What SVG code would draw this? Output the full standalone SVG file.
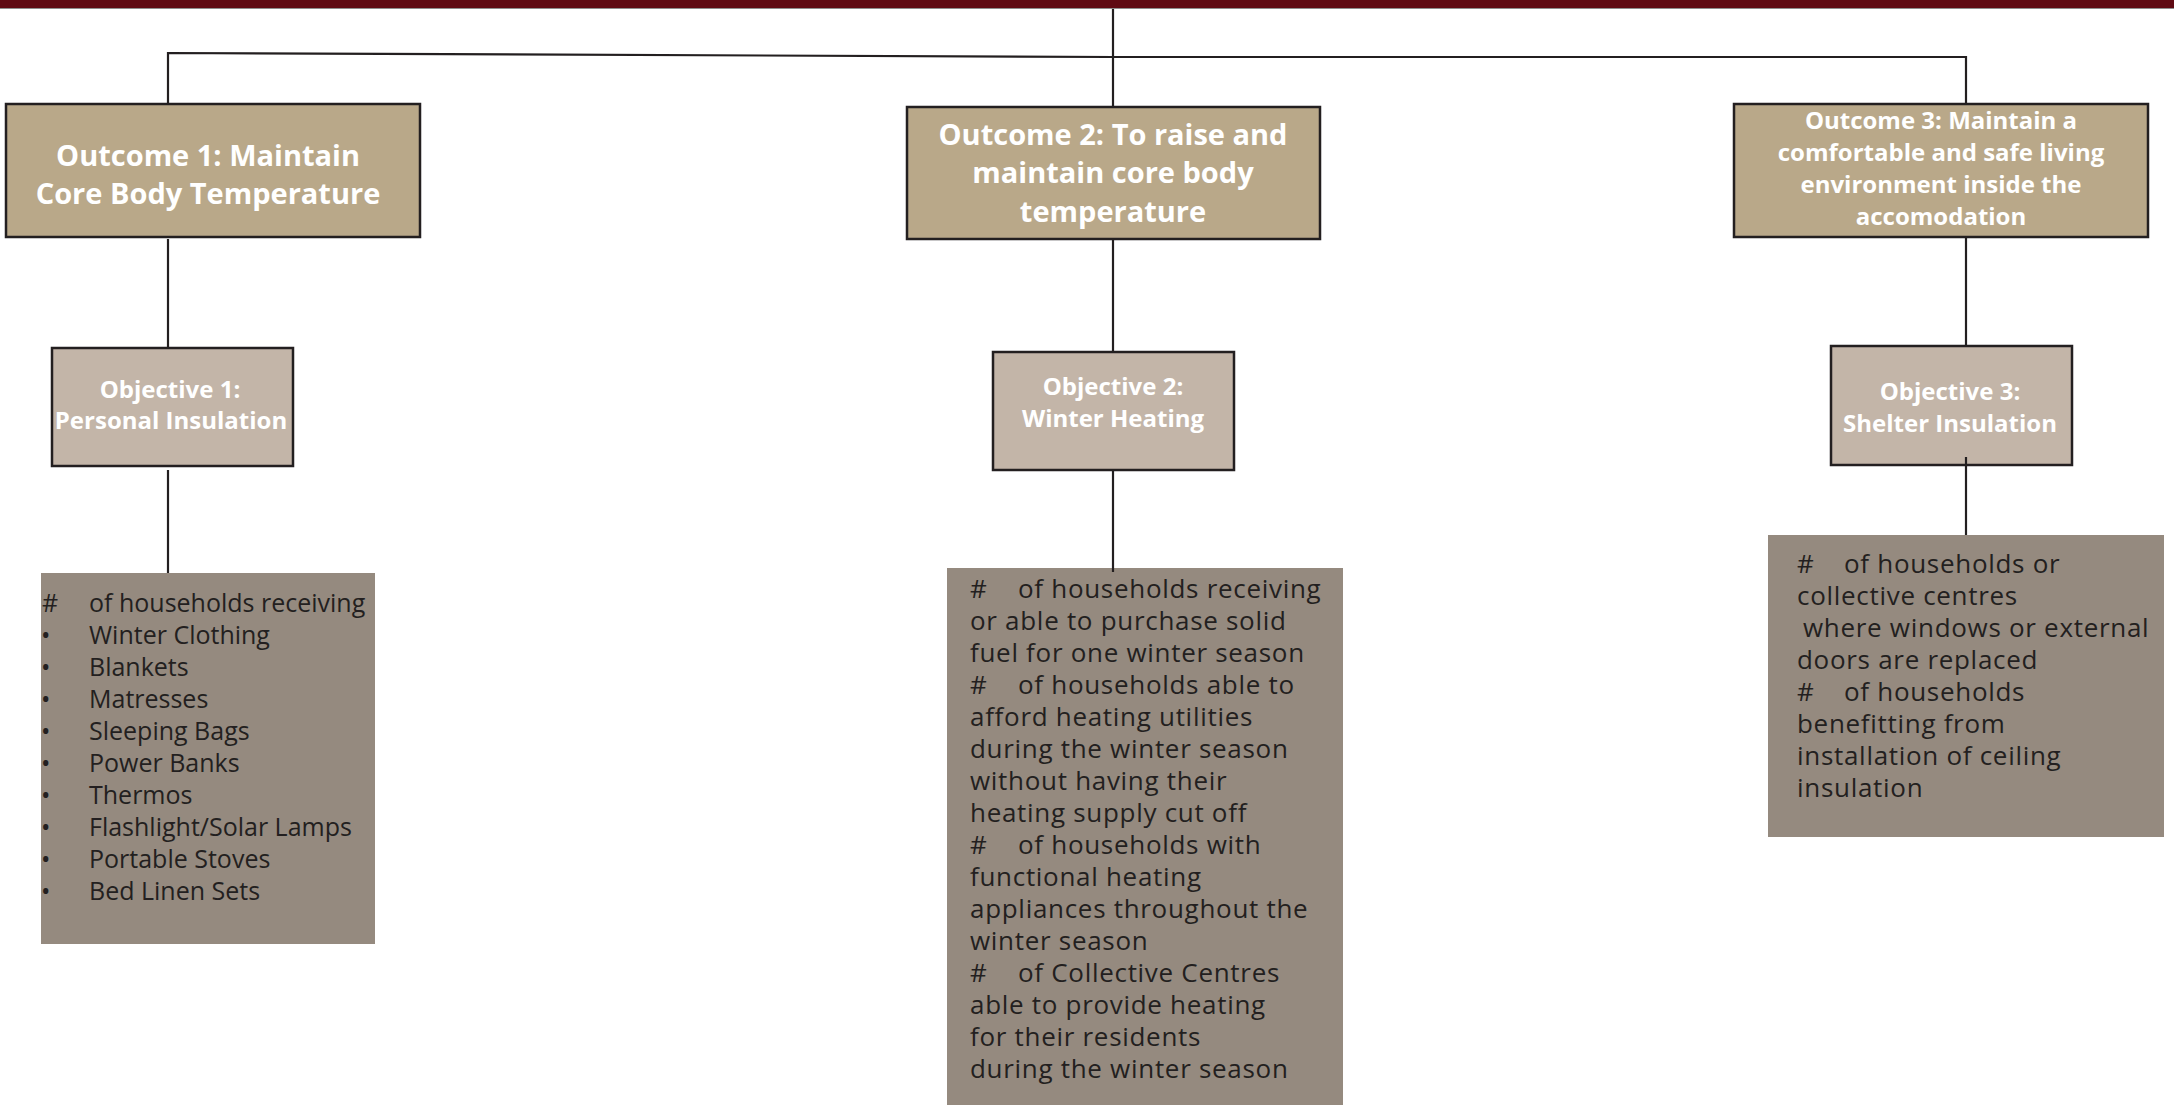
<svg xmlns="http://www.w3.org/2000/svg" width="2174" height="1105" viewBox="0 0 2174 1105">
<style>
.outcome{fill:#b9a889;stroke:#231f20;stroke-width:2.5}
.objective{fill:#c3b5a8;stroke:#231f20;stroke-width:2.5}
.list{fill:#958a7f}
.conn{fill:none;stroke:#231f20;stroke-width:2.2}
.t1{font-family:"Open Sans","Liberation Sans",sans-serif;font-weight:700;fill:#ffffff;text-anchor:middle}
.big{font-size:29px}
.mid{font-size:24px}
.lt{font-family:"Open Sans","Liberation Sans",sans-serif;fill:#231f20}
.l1{font-size:25px}
.l2{font-size:26px;letter-spacing:0.7px}
</style>
<rect x="0" y="0" width="2174" height="1105" fill="#ffffff"/>
<rect x="0" y="0" width="2174" height="8" fill="#5f0a13"/>
<line x1="0" y1="8.5" x2="2174" y2="8.5" stroke="#8e8e8e" stroke-width="1"/>

<g id="outcome1">
<rect class="outcome" x="6" y="104" width="414" height="133"/>
<text class="t1 big" x="208" y="166">Outcome 1: Maintain</text>
<text class="t1 big" x="208" y="204">Core Body Temperature</text>
</g>

<g id="outcome2">
<rect class="outcome" x="907" y="107" width="413" height="132"/>
<text class="t1 big" x="1113" y="145">Outcome 2: To raise and</text>
<text class="t1 big" x="1113" y="183">maintain core body</text>
<text class="t1 big" x="1113" y="222">temperature</text>
</g>

<g id="outcome3">
<rect class="outcome" x="1734" y="104" width="414" height="133"/>
<text class="t1 mid" x="1941" y="129">Outcome 3: Maintain a</text>
<text class="t1 mid" x="1941" y="161">comfortable and safe living</text>
<text class="t1 mid" x="1941" y="193">environment inside the</text>
<text class="t1 mid" x="1941" y="225">accomodation</text>
</g>

<g id="objective1">
<rect class="objective" x="52" y="348" width="241" height="118"/>
<text class="t1 mid" x="170" y="398">Objective 1:</text>
<text class="t1 mid" x="171" y="429">Personal Insulation</text>
</g>

<g id="objective2">
<rect class="objective" x="993" y="352" width="241" height="118"/>
<text class="t1 mid" x="1113" y="395">Objective 2:</text>
<text class="t1 mid" x="1113" y="427">Winter Heating</text>
</g>

<g id="objective3">
<rect class="objective" x="1831" y="346" width="241" height="119"/>
<text class="t1 mid" x="1950" y="400">Objective 3:</text>
<text class="t1 mid" x="1950" y="432">Shelter Insulation</text>
</g>

<g id="indicators1">
<rect class="list" x="41" y="573" width="334" height="371"/>
<g class="lt l1">
<text x="42" y="612">#</text><text x="89" y="612">of households receiving</text>
<text x="41" y="644">•</text><text x="89" y="644">Winter Clothing</text>
<text x="41" y="676">•</text><text x="89" y="676">Blankets</text>
<text x="41" y="708">•</text><text x="89" y="708">Matresses</text>
<text x="41" y="740">•</text><text x="89" y="740">Sleeping Bags</text>
<text x="41" y="772">•</text><text x="89" y="772">Power Banks</text>
<text x="41" y="804">•</text><text x="89" y="804">Thermos</text>
<text x="41" y="836">•</text><text x="89" y="836">Flashlight/Solar Lamps</text>
<text x="41" y="868">•</text><text x="89" y="868">Portable Stoves</text>
<text x="41" y="900">•</text><text x="89" y="900">Bed Linen Sets</text>
</g>
</g>

<g id="indicators2">
<rect class="list" x="947" y="568" width="396" height="537"/>
<g class="lt l2">
<text x="970" y="598">#</text><text x="1018" y="598">of households receiving</text>
<text x="970" y="630">or able to purchase solid</text>
<text x="970" y="662">fuel for one winter season</text>
<text x="970" y="694">#</text><text x="1018" y="694">of households able to</text>
<text x="970" y="726">afford heating utilities</text>
<text x="970" y="758">during the winter season</text>
<text x="970" y="790">without having their</text>
<text x="970" y="822">heating supply cut off</text>
<text x="970" y="854">#</text><text x="1018" y="854">of households with</text>
<text x="970" y="886">functional heating</text>
<text x="970" y="918">appliances throughout the</text>
<text x="970" y="950">winter season</text>
<text x="970" y="982">#</text><text x="1018" y="982">of Collective Centres</text>
<text x="970" y="1014">able to provide heating</text>
<text x="970" y="1046">for their residents</text>
<text x="970" y="1078">during the winter season</text>
</g>
</g>

<g id="indicators3">
<rect class="list" x="1768" y="535" width="396" height="302"/>
<g class="lt l2">
<text x="1797" y="573">#</text><text x="1844" y="573">of households or</text>
<text x="1797" y="605">collective centres</text>
<text x="1803" y="637">where windows or external</text>
<text x="1797" y="669">doors are replaced</text>
<text x="1797" y="701">#</text><text x="1844" y="701">of households</text>
<text x="1797" y="733">benefitting from</text>
<text x="1797" y="765">installation of ceiling</text>
<text x="1797" y="797">insulation</text>
</g>
</g>

<g id="connectors">
<path class="conn" d="M1113 9 V107"/>
<path class="conn" d="M168 104 V53 L1113 57 H1966 V104"/>
<path class="conn" d="M168 239 V347"/>
<path class="conn" d="M168 470 V573"/>
<path class="conn" d="M1113 239 V352"/>
<path class="conn" d="M1113 470 V572"/>
<path class="conn" d="M1966 237 V346"/>
<path class="conn" d="M1966 457 V535"/>
</g>
</svg>
